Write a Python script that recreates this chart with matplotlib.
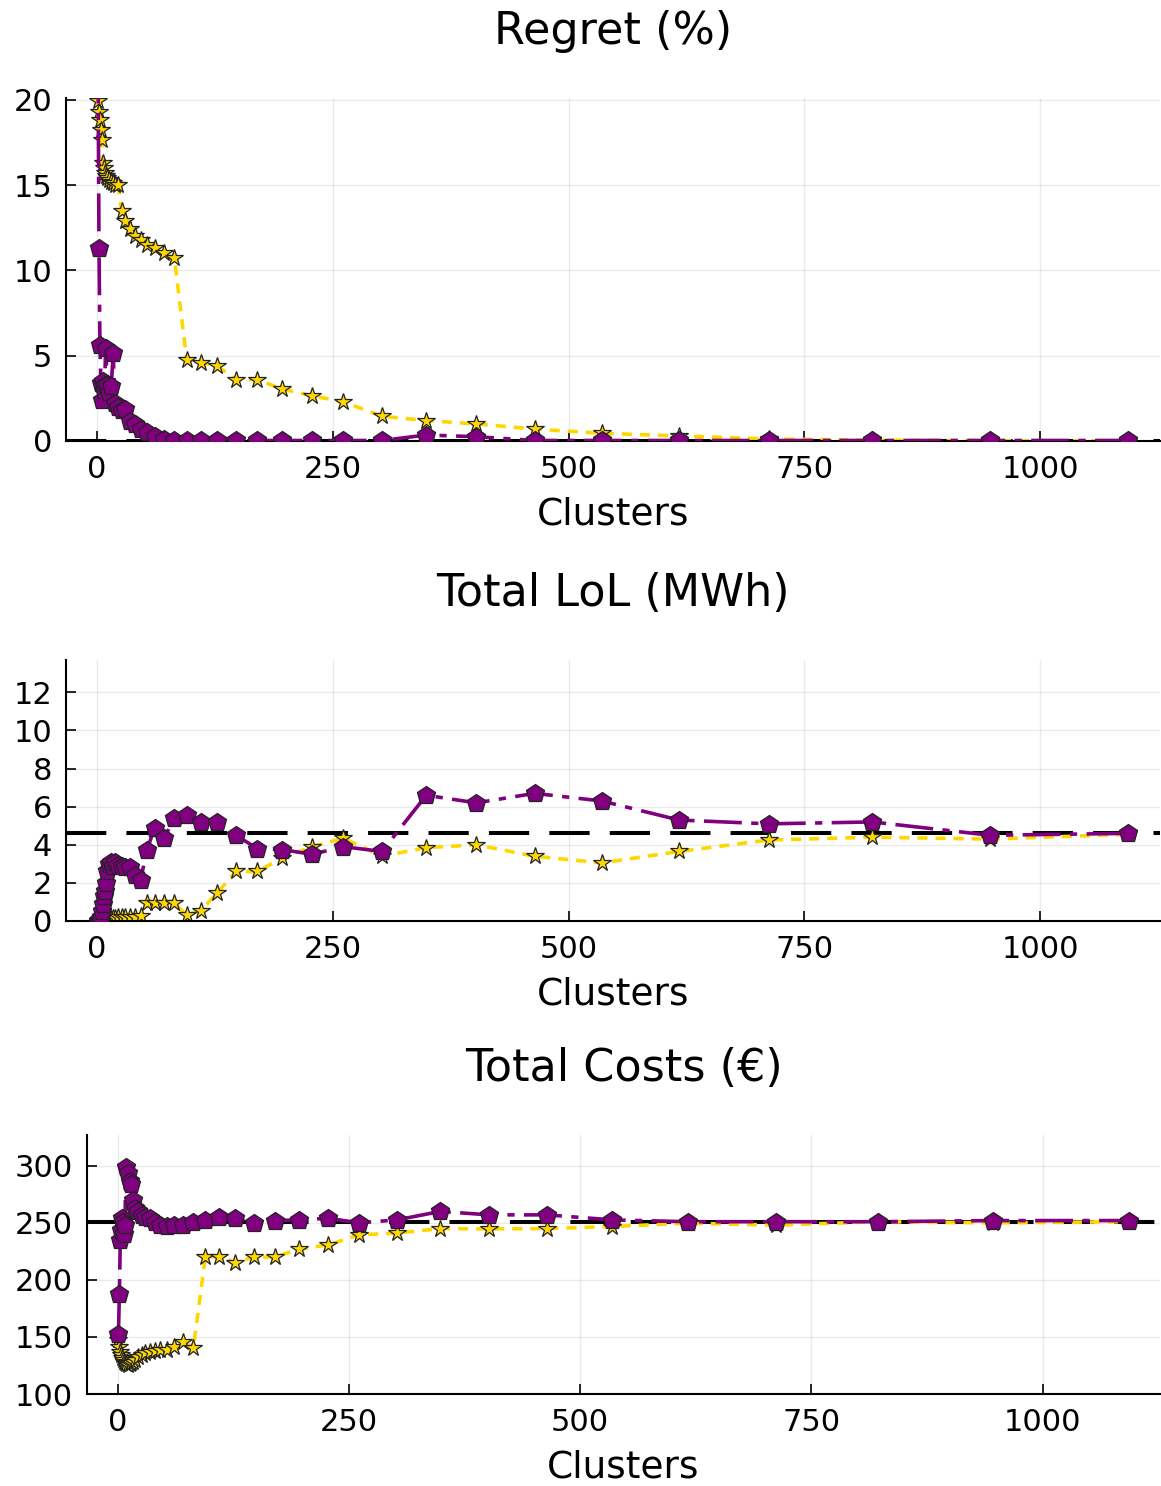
import matplotlib
matplotlib.use("Agg")
import matplotlib.pyplot as plt

plt.rcParams['font.family'] = ['DejaVu Sans']

# Number of clusters evaluated
clusters = [1, 2, 3, 4, 5, 6, 7, 8, 9, 11, 13, 15, 17, 19, 22, 26, 30, 35, 40, 46,
            53, 61, 71, 82, 95, 110, 127, 147, 170, 196, 228, 261, 302, 349, 402,
            464, 535, 617, 712, 822, 947, 1093]

# Regret (%)
regret_purple = [22.0, 11.3, 5.6, 3.4, 2.4, 3.5, 3.0, 3.3, 5.45, 3.3, 2.9, 3.2, 5.15,
                 2.2, 2.0, 1.8, 1.9, 1.2, 1.0, 0.7, 0.5, 0.3, 0.1, 0.05, 0.03, 0.03,
                 0.03, 0.03, 0.03, 0.03, 0.03, 0.03, 0.03, 0.35, 0.25, 0.03, 0.03,
                 0.03, 0.03, 0.03, 0.03, 0.03]
regret_gold = [19.9, 19.3, 18.8, 18.2, 17.65, 16.3, 16.0, 15.7, 15.5, 15.4, 15.3, 15.2,
               15.1, 15.0, 15.0, 13.5, 12.9, 12.4, 12.0, 11.8, 11.5, 11.3, 11.0, 10.7,
               4.75, 4.6, 4.4, 3.6, 3.6, 3.05, 2.65, 2.3, 1.45, 1.2, 1.0, 0.7, 0.45,
               0.3, 0.12, 0.05, 0.02, 0.01]
regret_ref = 0.0

# Total loss of load (MWh)
lol_purple = [0.0, 0.05, 0.1, 0.2, 0.5, 0.9, 1.3, 1.6, 2.0, 2.6, 3.0, 3.1, 2.9, 3.1,
              2.95, 2.9, 2.85, 2.85, 2.4, 2.15, 3.75, 4.9, 4.35, 5.4, 5.55, 5.2, 5.2,
              4.5, 3.8, 3.75, 3.5, 3.9, 3.65, 6.6, 6.2, 6.7, 6.3, 5.3, 5.1, 5.2, 4.5,
              4.6]
lol_gold = [0.0, 0.0, 0.0, 0.05, 0.05, 0.05, 0.05, 0.1, 0.1, 0.1, 0.1, 0.1, 0.15, 0.15,
            0.2, 0.23, 0.23, 0.23, 0.23, 0.25, 0.95, 0.93, 0.93, 0.93, 0.3, 0.55, 1.45,
            2.6, 2.6, 3.3, 3.9, 4.35, 3.4, 3.85, 4.0, 3.4, 3.05, 3.65, 4.25, 4.4, 4.3,
            4.55]
lol_ref = 4.6

# Total costs (EUR)
cost_purple = [153, 188, 235, 244, 254, 251, 240, 248, 299, 294, 287, 284, 270, 263,
               260, 257, 255.5, 254, 251, 248, 247, 248, 248, 251, 252.6, 255, 254,
               250, 252, 252.6, 254, 250, 252.6, 260, 257, 257, 252.6, 251, 251, 251,
               252, 252]
cost_gold = [147, 141, 137, 134, 131.5, 129.5, 128, 127, 126, 125.4, 126, 127, 128,
             130, 132.7, 134, 136, 137, 137.5, 138.6, 139, 141.5, 146, 140.5, 220.4,
             220.4, 215, 220, 220, 227, 230.7, 239.5, 241, 245, 244.7, 245, 246.8,
             249.7, 248, 251, 250, 251]
cost_ref = 251

titles = ["Regret (%)", "Total LoL (MWh)", "Total Costs (€)"]
xlabel = "Clusters"
xticks = [0, 250, 500, 750, 1000]
yticks_list = [[0, 5, 10, 15, 20],
               [0, 2, 4, 6, 8, 10, 12],
               [100, 150, 200, 250, 300]]
ylims = [(0, 20.1), (0, 13.7), (100, 327)]

W, H = 1161, 1486
fig = plt.figure(figsize=(W / 100, H / 100), dpi=100)

boxes = [(66, 98, 1160, 441), (66, 660, 1160, 921), (87, 1135, 1160, 1394)]
series = [(regret_purple, regret_gold, regret_ref),
          (lol_purple, lol_gold, lol_ref),
          (cost_purple, cost_gold, cost_ref)]

PURPLE = "#800080"
GOLD = "#FFD700"

for (l, t, r, b), (pv, gv, ref), title, yt, yl in zip(boxes, series, titles,
                                                       yticks_list, ylims):
    ax = fig.add_axes([l / W, 1 - b / H, (r - l) / W, (b - t) / H])
    ax.axhline(ref, color="black", lw=2.9, linestyle=(0, (10, 5)), zorder=1)
    ax.plot(clusters, gv, color=GOLD, lw=2.6, linestyle=(0, (2.8, 2.2)),
            marker="*", markersize=13, markerfacecolor=GOLD,
            markeredgecolor="#222222", markeredgewidth=0.9, zorder=2)
    ax.plot(clusters, pv, color=PURPLE, lw=2.6, linestyle=(0, (10.5, 2.6, 2.0, 2.6)),
            marker="p", markersize=13.5, markerfacecolor=PURPLE,
            markeredgecolor="#222222", markeredgewidth=0.9, zorder=3)
    ax.set_xlim(-33, 1127)
    ax.set_ylim(*yl)
    ax.set_xticks(xticks)
    ax.set_yticks(yt)
    ax.grid(True, color="#000000", alpha=0.08, lw=1)
    ax.set_axisbelow(True)
    for s in ("top", "right"):
        ax.spines[s].set_visible(False)
    for s in ("left", "bottom"):
        ax.spines[s].set_linewidth(1.5)
    ax.tick_params(direction="in", length=7, width=1.2, labelsize=22, pad=10)
    ax.set_title(title, fontsize=32, pad=39)
    ax.set_xlabel(xlabel, fontsize=27, labelpad=9)

fig.savefig("out.png", dpi=100)
